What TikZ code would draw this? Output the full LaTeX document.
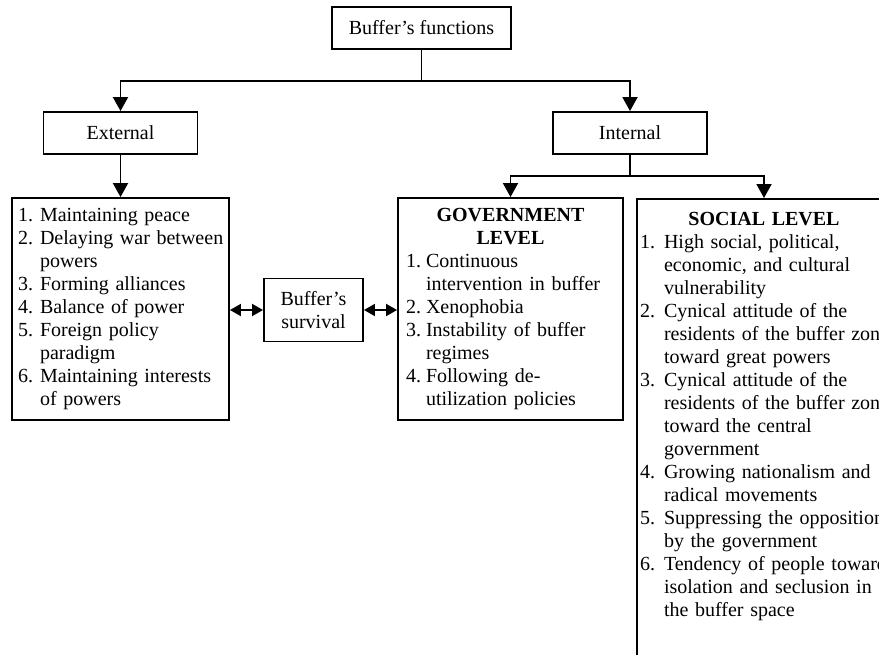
\documentclass[tikz,border=0pt]{standalone}
\usepackage{fontspec}
\setmainfont{Liberation Serif}
\usetikzlibrary{arrows.meta}
\newlength\lblw
\newcommand\itm[2]{\mbox{\makebox[\lblw][l]{#1}#2}}
\newcommand\cnt[1]{\mbox{\hspace*{\lblw}#1}}
\begin{document}
\begin{tikzpicture}[x=1pt,y=-1pt,
  every node/.style={font=\fontsize{20}{23}\selectfont},
  box/.style={draw, line width=1.9pt, inner sep=0pt},
  conn/.style={line width=1.9pt},
  arr/.style={line width=1.9pt, -{Triangle[length=14pt,width=15pt]}},
  darr/.style={line width=1.9pt, {Triangle[length=11pt,width=12pt]}-{Triangle[length=11pt,width=12pt]}}]
\useasboundingbox (0,0) rectangle (879,654);
\clip (0,0) rectangle (879,654);

\node[box, minimum width=179pt, minimum height=42pt] (top) at (421.5,28) {Buffer’s functions};
\node[box, minimum width=154pt, minimum height=42pt] (ext) at (120.5,133) {External};
\node[box, minimum width=154pt, minimum height=42pt] (int) at (630,133) {Internal};

\node[box, minimum width=217pt, minimum height=222pt, inner xsep=6pt, text width=205pt, align=left] (extlist) at (120.5,309)
 {\setlength\lblw{22pt}\itm{1.}{Maintaining peace}\\
  \itm{2.}{Delaying war between}\\
  \cnt{powers}\\
  \itm{3.}{Forming alliances}\\
  \itm{4.}{Balance of power}\\
  \itm{5.}{Foreign policy}\\
  \cnt{paradigm}\\
  \itm{6.}{Maintaining interests}\\
  \cnt{of powers}};

\node[box, minimum width=225pt, minimum height=222pt, inner xsep=8pt, text width=209pt, align=left] (gov) at (510.5,309)
 {\setlength\lblw{20pt}\makebox[209pt]{\bfseries GOVERNMENT}\\
  \makebox[209pt]{\bfseries LEVEL}\\
  \itm{1.}{Continuous}\\
  \cnt{intervention in buffer}\\
  \itm{2.}{Xenophobia}\\
  \itm{3.}{Instability of buffer}\\
  \cnt{regimes}\\
  \itm{4.}{Following de-}\\
  \cnt{utilization policies}};

\node[box, minimum width=99pt, minimum height=63pt, align=center] (surv) at (313.5,310) {Buffer’s\\survival};

\node[box, anchor=north, minimum width=254pt, inner xsep=3pt, inner ysep=13pt, text width=248pt, align=left] (soc) at (764,198)
 {\setlength\lblw{24pt}\makebox[248pt]{\bfseries SOCIAL LEVEL}\\
  \itm{1.}{High social, political,}\\
  \cnt{economic, and cultural}\\
  \cnt{vulnerability}\\
  \itm{2.}{Cynical attitude of the}\\
  \cnt{residents of the buffer zone}\\
  \cnt{toward great powers}\\
  \itm{3.}{Cynical attitude of the}\\
  \cnt{residents of the buffer zone}\\
  \cnt{toward the central}\\
  \cnt{government}\\
  \itm{4.}{Growing nationalism and}\\
  \cnt{radical movements}\\
  \itm{5.}{Suppressing the opposition}\\
  \cnt{by the government}\\
  \itm{6.}{Tendency of people toward}\\
  \cnt{isolation and seclusion in}\\
  \cnt{the buffer space}\rule[-120pt]{0pt}{0pt}};

\coordinate (j1) at (421.5,81);
\coordinate (j2) at (630,176);
\draw[conn] (top.south) -- (j1);
\draw[arr] (j1) -| (ext.north);
\draw[arr] (j1) -| (int.north);
\draw[arr] (ext.south) -- (extlist.north);
\draw[conn] (int.south) -- (j2);
\draw[arr] (j2) -| (gov.north);
\draw[arr] (j2) -| (soc.north);
\draw[darr] (surv.west -| extlist.east) -- (surv.west);
\draw[darr] (surv.east) -- (surv.east -| gov.west);
\end{tikzpicture}
\end{document}
